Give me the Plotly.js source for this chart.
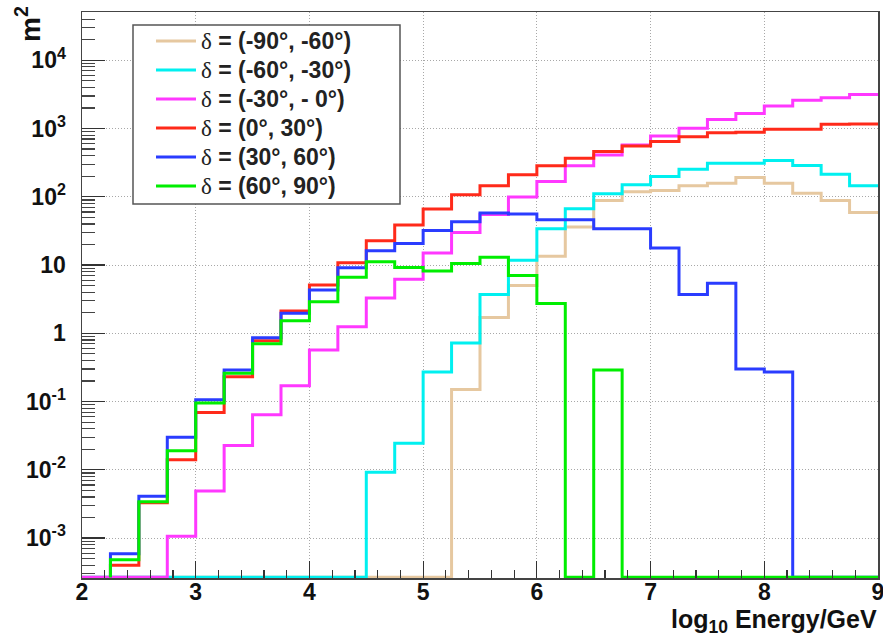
<!DOCTYPE html>
<html>
<head>
<meta charset="utf-8">
<script src="https://cdn.plot.ly/plotly-3.0.1.min.js"></script>
<style>
  html, body { margin: 0; padding: 0; background: #ffffff; }
  #chart { width: 883px; height: 637px; }
</style>
</head>
<body>
<div id="chart"></div>
<script>
// Bin edges in log10(Energy/GeV)
const binEdges = [2.0, 2.25, 2.5, 2.75, 3.0, 3.25, 3.5, 3.75, 4.0, 4.25, 4.5, 4.75,
  5.0, 5.25, 5.5, 5.75, 6.0, 6.25, 6.5, 6.75, 7.0, 7.25, 7.5, 7.75, 8.0, 8.25, 8.5, 8.75, 9.0];

// Bin contents (m^2); 0 = empty bin drawn on the axis floor, null = not drawn
const decM90M60 = [0, 0, 0, 0, 0, 0, 0, 0, 0, 0, 0, 0, 0,
  0.15, 1.7, 5.0, 13.5, 36, 88, 118, 124, 145, 158, 192, 158, 113, 88, 59];
const decM60M30 = [0, 0, 0, 0, 0, 0, 0, 0, 0, 0,
  0.0092, 0.0245, 0.27, 0.72, 3.7, 11.8, 34, 67, 111, 150, 198, 254, 310, 310, 339, 287, 214, 145];
const decM30M0 = [0, 0, 0, 0.00106, 0.0049, 0.0227, 0.064, 0.17, 0.57, 1.25, 3.3, 6.2, 15, 30,
  55, 99, 167, 284, 410, 574, 778, 1005, 1360, 1665, 2130, 2600, 2820, 3160];
const dec0P30 = [null, 0.0004, 0.0033, 0.014, 0.069, 0.23, 0.78, 2.12, 5.1, 10.8, 22.7, 38.5, 66,
  107, 145, 210, 284, 367, 460, 556, 643, 760, 869, 880, 973, 973, 1150, 1160];
const decP30P60 = [null, 0.00059, 0.0041, 0.030, 0.106, 0.29, 0.86, 1.96, 4.3, 9.1, 16.2, 20.7, 32,
  43, 58, 56, 46, 46, 34, 34, 17.8, 3.7, 5.4, 0.30, 0.27, 0, 0, 0];
const decP60P90 = [null, 0.00048, 0.0034, 0.019, 0.095, 0.26, 0.70, 1.53, 2.9, 6.6, 11.2, 9.2, 8.2,
  10.5, 13, 7.0, 2.74, 0, 0.29, 0, 0, 0, 0, 0, 0, 0, 0, 0];

const seriesLabels = ['(-90°, -60°)', '(-60°, -30°)', '(-30°, - 0°)', '(0°, 30°)', '(30°, 60°)', '(60°, 90°)'];
const seriesValues = [decM90M60, decM60M30, decM30M0, dec0P30, decP30P60, decP60P90];
const seriesColors = ['#e6c8a0', '#00f0f0', '#ff38ff', '#ff2a1a', '#2a3cff', '#00ee00'];

const xTickVals = [2, 3, 4, 5, 6, 7, 8, 9];
const xTickText = ['2', '3', '4', '5', '6', '7', '8', '9'];
const yTickVals = [1e-3, 1e-2, 1e-1, 1, 10, 100, 1000, 10000];
const yTickText = ['10<sup>-3</sup>', '10<sup>-2</sup>', '10<sup>-1</sup>', '1', '10',
  '10<sup>2</sup>', '10<sup>3</sup>', '10<sup>4</sup>'];

const yLogMin = -3.585, yLogMax = 4.707;
const floorVal = Math.pow(10, yLogMin + 0.012);

function legendName(lbl) {
  return '<span style="font-size:23px"><span style="font-family:\'Liberation Serif\';font-weight:normal">δ</span> = ' + lbl + '</span>';
}

function stepTrace(vals, lbl, color) {
  const xs = [], ys = [];
  let started = false;
  for (let i = 0; i < vals.length; i++) {
    const v = vals[i];
    if (v === null) continue;
    if (!started) { xs.push(binEdges[i]); ys.push(floorVal); started = true; }
    xs.push(binEdges[i]);
    ys.push(v > 0 ? v : floorVal);
  }
  xs.push(binEdges[binEdges.length - 1]);
  ys.push(ys[ys.length - 1]);
  return {
    type: 'scatter', mode: 'lines', x: xs, y: ys, name: legendName(lbl),
    line: { shape: 'hv', color: color, width: 3 },
    hoverinfo: 'skip'
  };
}

const traces = seriesValues.map((v, i) => stepTrace(v, seriesLabels[i], seriesColors[i]));

const L = 82, R = 5, T = 12, B = 59;
const W = 883, H = 637;
const pw = W - L - R, ph = H - T - B;
const px = (x) => (x - L) / pw;
const py = (y) => (H - B - y) / ph;

const fam = 'Liberation Sans, Arial, sans-serif';
const tickFont = { family: fam, size: 23, color: '#111', weight: 700 };

const layout = {
  width: W, height: H,
  margin: { l: L, r: R, t: T, b: B },
  paper_bgcolor: '#ffffff', plot_bgcolor: '#ffffff',
  showlegend: true,
  xaxis: {
    range: [2, 9], tickmode: 'array', tickvals: xTickVals, ticktext: xTickText,
    ticks: 'inside', ticklen: 17, tickwidth: 1.2, tickcolor: '#333',
    showline: true, linecolor: '#444', linewidth: 1.5, mirror: true,
    showgrid: true, gridcolor: '#a8a8a8', griddash: '1px,2px', gridwidth: 1,
    zeroline: false, ticklabeloverflow: 'allow',
    tickfont: tickFont, ticklabelstandoff: -7,
    minor: { dtick: 0.2, tick0: 2, ticks: 'inside', ticklen: 8, tickcolor: '#333', showgrid: false }
  },
  yaxis: {
    type: 'log', range: [yLogMin, yLogMax],
    tickmode: 'array', tickvals: yTickVals, ticktext: yTickText,
    ticks: 'inside', ticklen: 23, tickwidth: 1.2, tickcolor: '#333',
    showline: true, linecolor: '#444', linewidth: 1.5, mirror: true,
    showgrid: true, gridcolor: '#a8a8a8', griddash: '1px,2px', gridwidth: 1,
    zeroline: false,
    tickfont: tickFont, ticklabelstandoff: 10,
    minor: { dtick: 'D1', ticks: 'inside', ticklen: 13, tickcolor: '#444', showgrid: false }
  },
  legend: {
    x: px(151), y: py(21.5), xanchor: 'left', yanchor: 'top',
    bgcolor: 'rgba(0,0,0,0)', borderwidth: 0,
    font: { family: fam, size: 20, color: '#222', weight: 700 },
    tracegroupgap: 0, itemwidth: 40
  },
  shapes: [{
    type: 'rect', xref: 'paper', yref: 'paper',
    x0: px(133), x1: px(400), y0: py(204), y1: py(25),
    fillcolor: '#ffffff', line: { color: '#555', width: 1.5 }, layer: 'above'
  }],
  annotations: [
    {
      text: 'log<sub>10</sub> Energy/GeV', xref: 'paper', yref: 'paper',
      x: px(879), y: py(603), xanchor: 'right', yanchor: 'top', showarrow: false,
      font: { family: fam, size: 25, color: '#111', weight: 700 }
    },
    {
      text: 'm<sup>2</sup>', xref: 'paper', yref: 'paper', textangle: -90,
      x: px(8), y: py(4), xanchor: 'left', yanchor: 'top', showarrow: false,
      font: { family: fam, size: 28, color: '#111', weight: 700 }
    }
  ]
};

Plotly.newPlot('chart', traces, layout, { displayModeBar: false, staticPlot: true });
</script>
</body>
</html>
